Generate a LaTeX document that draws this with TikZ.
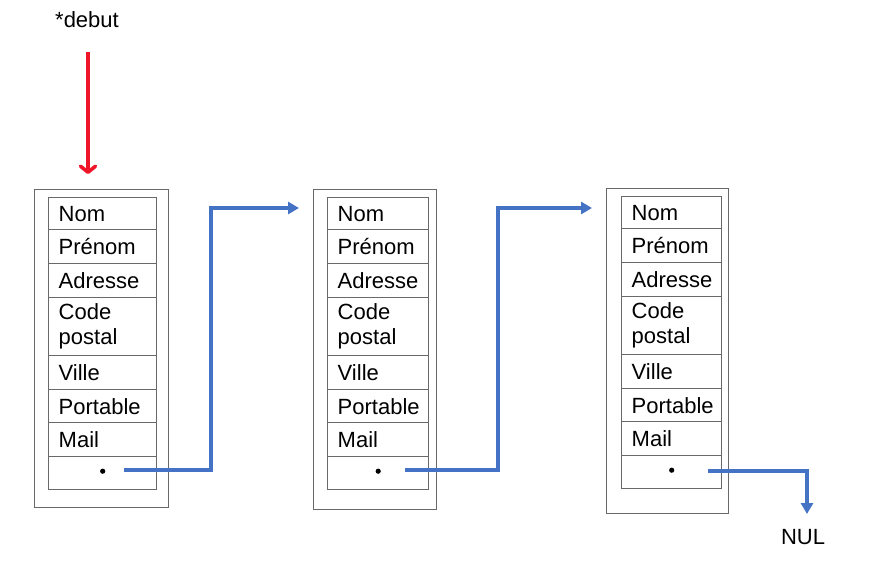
\documentclass[tikz,border=0pt]{standalone}
\usepackage{fontspec}
\setmainfont{Liberation Sans}
\usetikzlibrary{arrows.meta,calc}
\definecolor{linkblue}{RGB}{68,114,196}
\definecolor{ptrred}{RGB}{240,20,40}
\definecolor{boxgray}{RGB}{105,105,105}
\tikzset{
  txt/.style={font=\fontsize{22}{25}\selectfont, inner sep=0pt},
  outerbox/.style={draw=boxgray, line width=1.4pt},
  cell/.style={draw=boxgray, line width=1.4pt, anchor=north west, inner xsep=10pt, inner ysep=0pt,
               align=left, font=\fontsize{22}{25}\selectfont},
  link/.style={draw=linkblue, line width=3.2pt, -{Triangle[length=11pt,width=12pt]}},
  redptr/.style={draw=ptrred, line width=3.6pt, -{Straight Barb[length=6pt,width=15pt,round]}},
}
\begin{document}
\begin{tikzpicture}[x=1pt,y=-1pt]
\useasboundingbox (0,0) rectangle (878,565);
% three list elements
\foreach \bx/\ix/\iw/\ox/\ow/\ob/\dy in {1/48/108/34/134/507/0, 2/327/101/313/123/509/0, 3/621/100/606/122/513/-1}{
  \begin{scope}[yshift=-\dy pt]
    \node[outerbox, anchor=north west, minimum width=\ow pt, minimum height={(\ob-189-\dy)*1pt}, inner sep=0pt]
      (b\bx) at (\ox,189) {};
    \node[cell, text width={(\iw-20)*1pt}, minimum height=32pt] (b\bx-1) at (\ix,197) {Nom};
    \node[cell, text width={(\iw-20)*1pt}, minimum height=34pt] (b\bx-2) at (\ix,229) {Prénom};
    \node[cell, text width={(\iw-20)*1pt}, minimum height=34pt] (b\bx-3) at (\ix,263) {Adresse};
    \node[cell, text width={(\iw-20)*1pt}, minimum height=58pt] (b\bx-4) at (\ix,297) {Code\\postal};
    \node[cell, text width={(\iw-20)*1pt}, minimum height=34pt] (b\bx-5) at (\ix,355) {Ville};
    \node[cell, text width={(\iw-20)*1pt}, minimum height=33pt] (b\bx-6) at (\ix,389) {Portable};
    \node[cell, text width={(\iw-20)*1pt}, minimum height=34pt] (b\bx-7) at (\ix,422) {Mail};
    \node[cell, text width={(\iw-20)*1pt}, minimum height=33pt] (b\bx-8) at (\ix,456) {};
    \fill ($(b\bx-8.center)+(0,-2)$) circle (2.6pt);
  \end{scope}
}
% pointer labels
\node[txt] (debut) at (87,20) {*debut};
\node[txt] (nul) at (803,537) {NUL};
% red head pointer
\coordinate (r0) at (88,52);
\coordinate (r1) at (88,174);
\draw[redptr] (r0) -- (r1);
% links
\coordinate (s1) at (124,470);
\coordinate (k1) at (211,208);
\coordinate (e1) at (299,208);
\draw[link] (s1) -| (k1) -- (e1);
\coordinate (s2) at (405,470);
\coordinate (k2) at (498,208);
\coordinate (e2) at (592,208);
\draw[link] (s2) -| (k2) -- (e2);
\coordinate (s3) at (708,471);
\coordinate (k3) at (807,514);
\draw[link] (s3) -| (k3);
\end{tikzpicture}
\end{document}
